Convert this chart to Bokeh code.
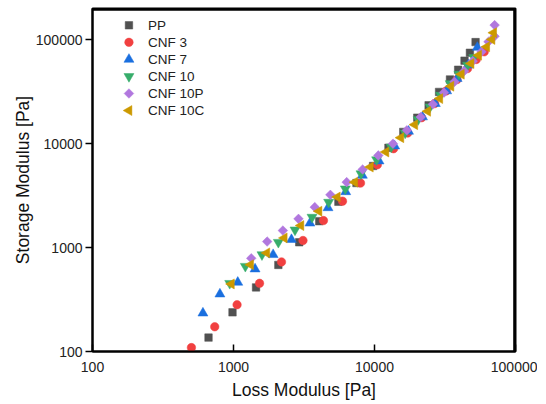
import numpy as np
from bokeh.plotting import figure
from bokeh.models import (Range1d, FixedTicker, BasicTickFormatter,
                          ColumnDataSource, LinearScale)
from bokeh.core.properties import value
from bokeh.embed import file_html
from bokeh.resources import INLINE

# ---- data ----
pp_x = [665, 984, 1445, 2080, 2925, 4055, 5545, 7450, 9770, 12560, 16000, 20100, 24200, 28700, 34300, 39200, 43500, 47500, 52100]
pp_y = [136, 238, 414, 681, 1125, 1795, 2760, 4180, 6100, 9140, 12980, 17800, 23400, 31500, 41500, 51500, 63000, 75000, 95000]

cnf3_x = [503, 736, 1060, 1530, 2190, 3110, 4345, 5930, 7960, 10470, 13650, 17200, 21600, 26700, 32200, 38500, 45700, 52700, 60000]
cnf3_y = [109, 173, 282, 453, 728, 1170, 1820, 2800, 4180, 6270, 8950, 12680, 17800, 24300, 32200, 41400, 52800, 64600, 76600]

cnf7_x = [607, 801, 1072, 1422, 1910, 2577, 3482, 4680, 6250, 8200, 10770, 13900, 17430, 21900, 27000, 32500, 38550, 46250, 53600]
cnf7_y = [234, 357, 463, 622, 855, 1194, 1718, 2415, 3445, 4960, 6810, 9490, 13150, 18070, 24300, 32200, 42300, 57000, 84400]

cnf10_x = [940, 1213, 1592, 2080, 2730, 3605, 4730, 6210, 8020, 10350, 13130, 16500, 20400, 24770, 29380, 34440, 39700, 45700, 50600]
cnf10_y = [453, 661, 855, 1125, 1480, 1963, 2735, 3680, 5140, 7010, 9290, 12680, 17070, 22600, 29260, 37900, 46700, 57000, 67600]

cnf10p_x = [1336, 1733, 2240, 2890, 3770, 4865, 6350, 8240, 10640, 13520, 16960, 21280, 25950, 31100, 36900, 43200, 49760, 57400, 64300, 71000, 71100]
cnf10p_y = [789, 1143, 1459, 1890, 2450, 3220, 4265, 5650, 7710, 10000, 13450, 18070, 23930, 31040, 39360, 49870, 62260, 76600, 95700, 108000, 138400]

cnf10c_x = [966, 1322, 1723, 2289, 3006, 4038, 5450, 7240, 9340, 12050, 15380, 19300, 23830, 29040, 34830, 41300, 48400, 54800, 62500, 68100, 70000]
cnf10c_y = [447, 685, 889, 1239, 1629, 2240, 3064, 4265, 5960, 8320, 11430, 15250, 20510, 27170, 35730, 46700, 59100, 71100, 85500, 100700, 116900]

series_names = ["PP", "CNF 3", "CNF 7", "CNF 10", "CNF 10P", "CNF 10C"]
tick_values = [100, 1000, 10000, 100000]
tick_labels = ["100", "1000", "10000", "100000"]

FONT = "Liberation Sans"
FW, FH = 423, 343

p = figure(frame_width=FW, frame_height=FH, x_axis_type="log", y_axis_type="log",
           x_range=Range1d(100, 100000), y_range=Range1d(100, 200000),
           output_backend="svg", toolbar_location=None,
           min_border_left=92, min_border_right=22, min_border_top=8, min_border_bottom=44)

p.xgrid.visible = False
p.ygrid.visible = False
p.outline_line_color = "black"
p.outline_line_width = 2
p.background_fill_color = "white"
p.border_fill_color = "white"

styles = [
    ("square", "#515151", 7.5, 0.0),
    ("circle", "#F14040", 8.5, 0.0),
    ("triangle", "#1A6FDF", 10, 0.0),
    ("inverted_triangle", "#37AD6B", 10, 0.0),
    ("square", "#B177DE", 6.8, np.pi / 4),
    ("triangle", "#CC9900", 10, np.pi / 2),
]
series_data = [(pp_x, pp_y), (cnf3_x, cnf3_y), (cnf7_x, cnf7_y),
               (cnf10_x, cnf10_y), (cnf10p_x, cnf10p_y), (cnf10c_x, cnf10c_y)]

for (xs, ys), (mk, col, sz, ang) in zip(series_data, styles):
    src = ColumnDataSource(dict(x=xs, y=ys, a=[ang] * len(xs)))
    p.scatter("x", "y", source=src, marker=mk, size=sz, angle="a", angle_units="rad",
              fill_color=col, line_color=col, line_width=0.5)

# ---- frame-fraction coordinates (layout only): frame border and legend ----
p.extra_x_ranges = {"leg": Range1d(0, 1)}
p.extra_y_ranges = {"leg": Range1d(0, 1)}
p.extra_x_scales = {"leg": LinearScale()}
p.extra_y_scales = {"leg": LinearScale()}

ex, ey = 1 - 1.2 / FW, 1 - 1.2 / FH
p.line(x=[0, ex, ex], y=[ey, ey, 0], line_color="black", line_width=2.2,
       x_range_name="leg", y_range_name="leg")

rows = 0.951 - 0.0497 * np.arange(len(series_names))
for i, (mk, col, sz, ang) in enumerate(styles):
    p.scatter([0.0862], [rows[i]], marker=mk, size=sz, angle=ang,
              fill_color=col, line_color=col, line_width=0.5,
              x_range_name="leg", y_range_name="leg")
p.text(x=[0.1313] * len(series_names), y=list(rows), text=series_names,
       x_range_name="leg", y_range_name="leg",
       text_font=value(FONT), text_font_size="13.5px", text_color="#222222",
       text_baseline="middle", text_align="left")

xa = p.below[0]
ya = p.left[0]
for ax in (xa, ya):
    ax.ticker = FixedTicker(ticks=tick_values)
    ax.formatter = BasicTickFormatter(use_scientific=False)
    ax.major_label_overrides = {v: l for v, l in zip(tick_values, tick_labels)}
    ax.minor_tick_line_color = None
    ax.axis_line_width = 2
    ax.axis_line_color = "black"
    ax.major_tick_line_width = 1.5
    ax.major_tick_line_color = "black"
    ax.major_label_text_font = FONT
    ax.major_label_text_font_size = "14px"
    ax.major_label_text_color = "#222222"
    ax.axis_label_text_font = FONT
    ax.axis_label_text_font_size = "17.5px"
    ax.axis_label_text_font_style = "normal"
    ax.axis_label_text_color = "#111111"

xa.major_tick_in = 7
xa.major_tick_out = 0
xa.major_label_standoff = 10
xa.axis_label = "Loss Modulus [Pa]"
xa.axis_label_standoff = 5

ya.major_tick_in = 0
ya.major_tick_out = 7
ya.major_label_standoff = 3
ya.axis_label = "Storage Modulus [Pa]"
ya.axis_label_standoff = 0

open("out.html", "w").write(file_html(p, INLINE))
